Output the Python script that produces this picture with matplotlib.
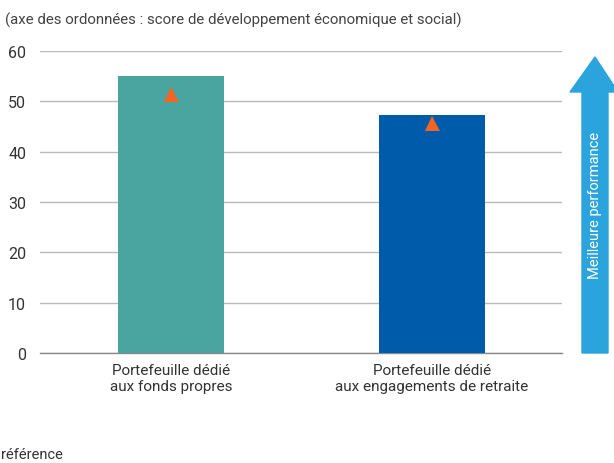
import matplotlib
matplotlib.use("Agg")
import matplotlib.pyplot as plt
from matplotlib.patches import Polygon

plt.rcParams['font.family'] = ['Roboto', 'DejaVu Sans']

categories = ["Portefeuille dédié\naux fonds propres",
              "Portefeuille dédié\naux engagements de retraite"]
scores = [55.1, 47.3]
benchmark = [51.4, 45.7]
yticks = [0, 10, 20, 30, 40, 50, 60]
bar_colors = ["#4aa5a0", "#005baa"]

W, H = 614, 464
fig = plt.figure(figsize=(W / 100, H / 100), dpi=100)
ax = fig.add_axes([40 / W, (H - 354) / H, 522 / W, 302 / H])

x = list(range(len(categories)))
ax.bar(x, scores, width=0.406, color=bar_colors, zorder=3)
ax.plot(x, benchmark, linestyle="none", marker="^", markersize=10.8,
        color="#f26522", markeredgewidth=0, zorder=4)

ax.set_xlim(-0.502, 1.498)
ax.set_ylim(0, 60)
ax.set_yticks(yticks)
ax.set_yticklabels([str(v) for v in yticks], fontsize=11.5, color="#333333")
ax.set_xticks(x)
ax.set_xticklabels(categories, fontsize=11, color="#333333", linespacing=1.25)
ax.tick_params(axis="x", length=0, pad=7)
ax.tick_params(axis="y", length=0, pad=10)
ax.grid(axis="y", color="#bbbbbb", linewidth=1, zorder=0)
for s in ["top", "right", "left"]:
    ax.spines[s].set_visible(False)
ax.spines["bottom"].set_color("#888888")
ax.spines["bottom"].set_linewidth(1)

fig.text(5 / W, 1 - 20 / H,
         "(axe des ordonnées : score de développement économique et social)",
         fontsize=10.8, color="#444444", va="center", ha="left")

fig.text(1 / W, 1 - 455 / H, "référence", fontsize=10.5,
         color="#333333", va="center", ha="left")

# arrow "Meilleure performance"
arrow_pts = [(582, 354), (608, 354), (608, 93), (618, 93), (595, 58),
             (570, 93), (582, 93)]
arrow = Polygon([(px / W, 1 - py / H) for px, py in arrow_pts],
                closed=True, transform=fig.transFigure, color="#2ba3dc",
                clip_on=False)
fig.patches.append(arrow)
fig.text(595 / W, 1 - 205 / H, "Meilleure performance", rotation=90,
         color="white", fontsize=10.5, ha="center", va="center")

fig.savefig("out.png", dpi=100)
